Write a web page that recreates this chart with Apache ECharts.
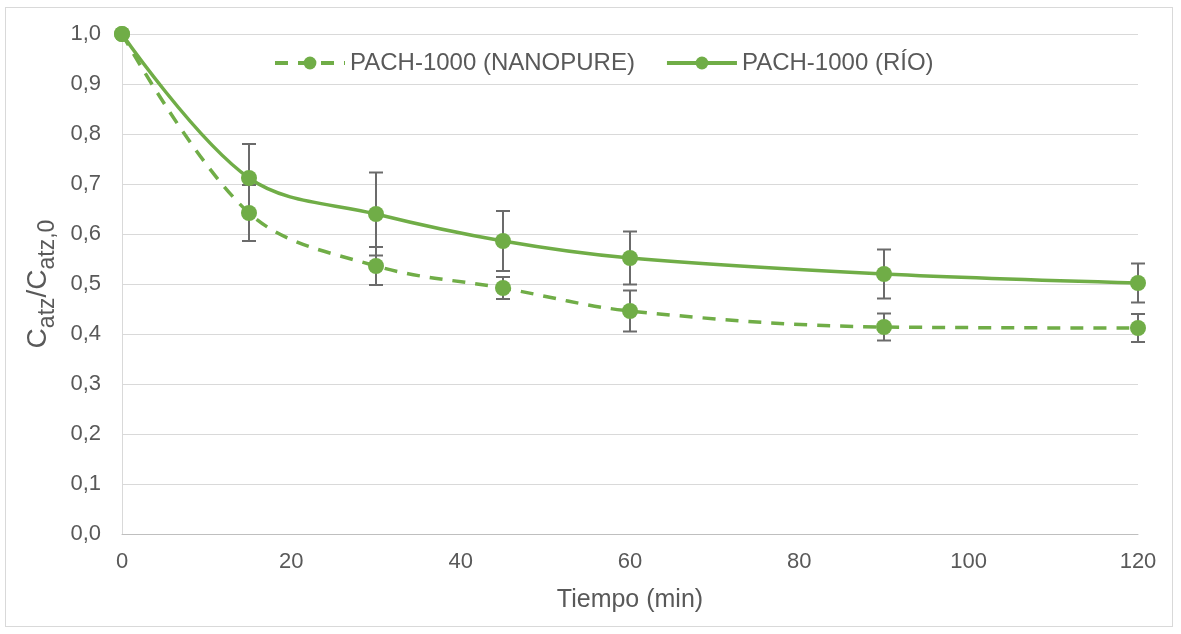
<!DOCTYPE html>
<html>
<head>
<meta charset="utf-8">
<script src="https://cdn.jsdelivr.net/npm/echarts@6/dist/echarts.min.js"></script>
<style>
html,body{margin:0;padding:0;background:#fff;}
#frame{position:absolute;left:5px;top:7px;width:1168px;height:620px;border:1px solid #d9d9d9;box-sizing:border-box;}
#chart{position:absolute;left:0;top:0;width:1181px;height:634px;}
</style>
</head>
<body>
<div id="frame"></div>
<div id="chart"></div>
<script>
const times = [0, 15, 30, 45, 60, 90, 120];
const nanopure = [1.0, 0.642, 0.536, 0.492, 0.446, 0.414, 0.412];
const nanopureErr = [0, 0.056, 0.038, 0.022, 0.041, 0.027, 0.028];
const rio = [1.0, 0.712, 0.640, 0.586, 0.552, 0.520, 0.502];
const rioErr = [0, 0.068, 0.083, 0.060, 0.053, 0.049, 0.039];
const seriesNames = ['PACH-1000 (NANOPURE)', 'PACH-1000 (RÍO)'];
const xTitle = 'Tiempo (min)';

const green = '#70ad47';
const textColor = '#595959';
const ff = 'Liberation Sans, Arial, sans-serif';

function pairs(vals){ return times.map((t,i)=>[t, vals[i]]); }
function errData(vals, errs){
  return times.map((t,i)=>[t, vals[i]-errs[i], vals[i]+errs[i]]).filter((d,i)=>errs[i]>0);
}
function errRender(params, api){
  const x = api.value(0);
  const lo = api.coord([x, api.value(1)]);
  const hi = api.coord([x, api.value(2)]);
  const w = 7;
  const st = {stroke:'#6b6b6b', lineWidth:2};
  return {type:'group', children:[
    {type:'line', shape:{x1:lo[0],y1:lo[1],x2:hi[0],y2:hi[1]}, style:st},
    {type:'line', shape:{x1:lo[0]-w,y1:lo[1],x2:lo[0]+w,y2:lo[1]}, style:st},
    {type:'line', shape:{x1:hi[0]-w,y1:hi[1],x2:hi[0]+w,y2:hi[1]}, style:st}
  ]};
}

const chart = echarts.init(document.getElementById('chart'));
chart.setOption({
  animation:false,
  backgroundColor:'transparent',
  textStyle:{fontFamily:ff},
  grid:{left:122, right:43, top:34, bottom:100},
  legend:{
    top:46, left:268, itemWidth:70, itemHeight:16, itemGap:30,
    textStyle:{fontSize:24, color:textColor, fontFamily:ff},
    lineStyle:{width:4},
    data:seriesNames
  },
  xAxis:{
    type:'value', min:0, max:120, interval:20,
    axisLine:{show:true, lineStyle:{color:'#bfbfbf', width:1}},
    axisTick:{show:false},
    splitLine:{show:false},
    axisLabel:{fontSize:22, color:textColor, margin:17, fontFamily:ff},
    name:xTitle, nameLocation:'middle', nameGap:54,
    nameTextStyle:{fontSize:25, color:textColor, fontFamily:ff}
  },
  yAxis:{
    type:'value', min:0, max:1, interval:0.1,
    axisLine:{show:true, lineStyle:{color:'#d9d9d9', width:1}},
    axisTick:{show:false},
    splitLine:{show:true, lineStyle:{color:'#d9d9d9', width:1}},
    axisLabel:{fontSize:22, color:textColor, margin:21, fontFamily:ff, formatter:v=>v.toFixed(1).replace('.',',')},
    name:'{c|C}{s|atz}{c|/C}{s|atz,0}', nameLocation:'middle', nameGap:70, nameRotate:90,
    nameTextStyle:{
      rich:{
        c:{fontSize:28, color:textColor, lineHeight:34, verticalAlign:'bottom', fontFamily:ff},
        s:{fontSize:23, color:textColor, lineHeight:34, verticalAlign:'bottom', padding:[0,0,-7,0], fontFamily:ff}
      }
    }
  },
  series:[
    {type:'custom', name:'errN', renderItem:errRender, data:errData(nanopure, nanopureErr), z:1, silent:true, encode:{x:0,y:[1,2]}},
    {type:'custom', name:'errR', renderItem:errRender, data:errData(rio, rioErr), z:1, silent:true, encode:{x:0,y:[1,2]}},
    {type:'line', name:seriesNames[0], data:pairs(nanopure), smooth:0.35, z:3,
      symbol:'circle', symbolSize:16,
      lineStyle:{color:green, width:3.5, type:[13,10]},
      itemStyle:{color:green, borderWidth:0}},
    {type:'line', name:seriesNames[1], data:pairs(rio), smooth:0.35, z:3,
      symbol:'circle', symbolSize:16,
      lineStyle:{color:green, width:3.5},
      itemStyle:{color:green, borderWidth:0}}
  ]
});
</script>
</body>
</html>
